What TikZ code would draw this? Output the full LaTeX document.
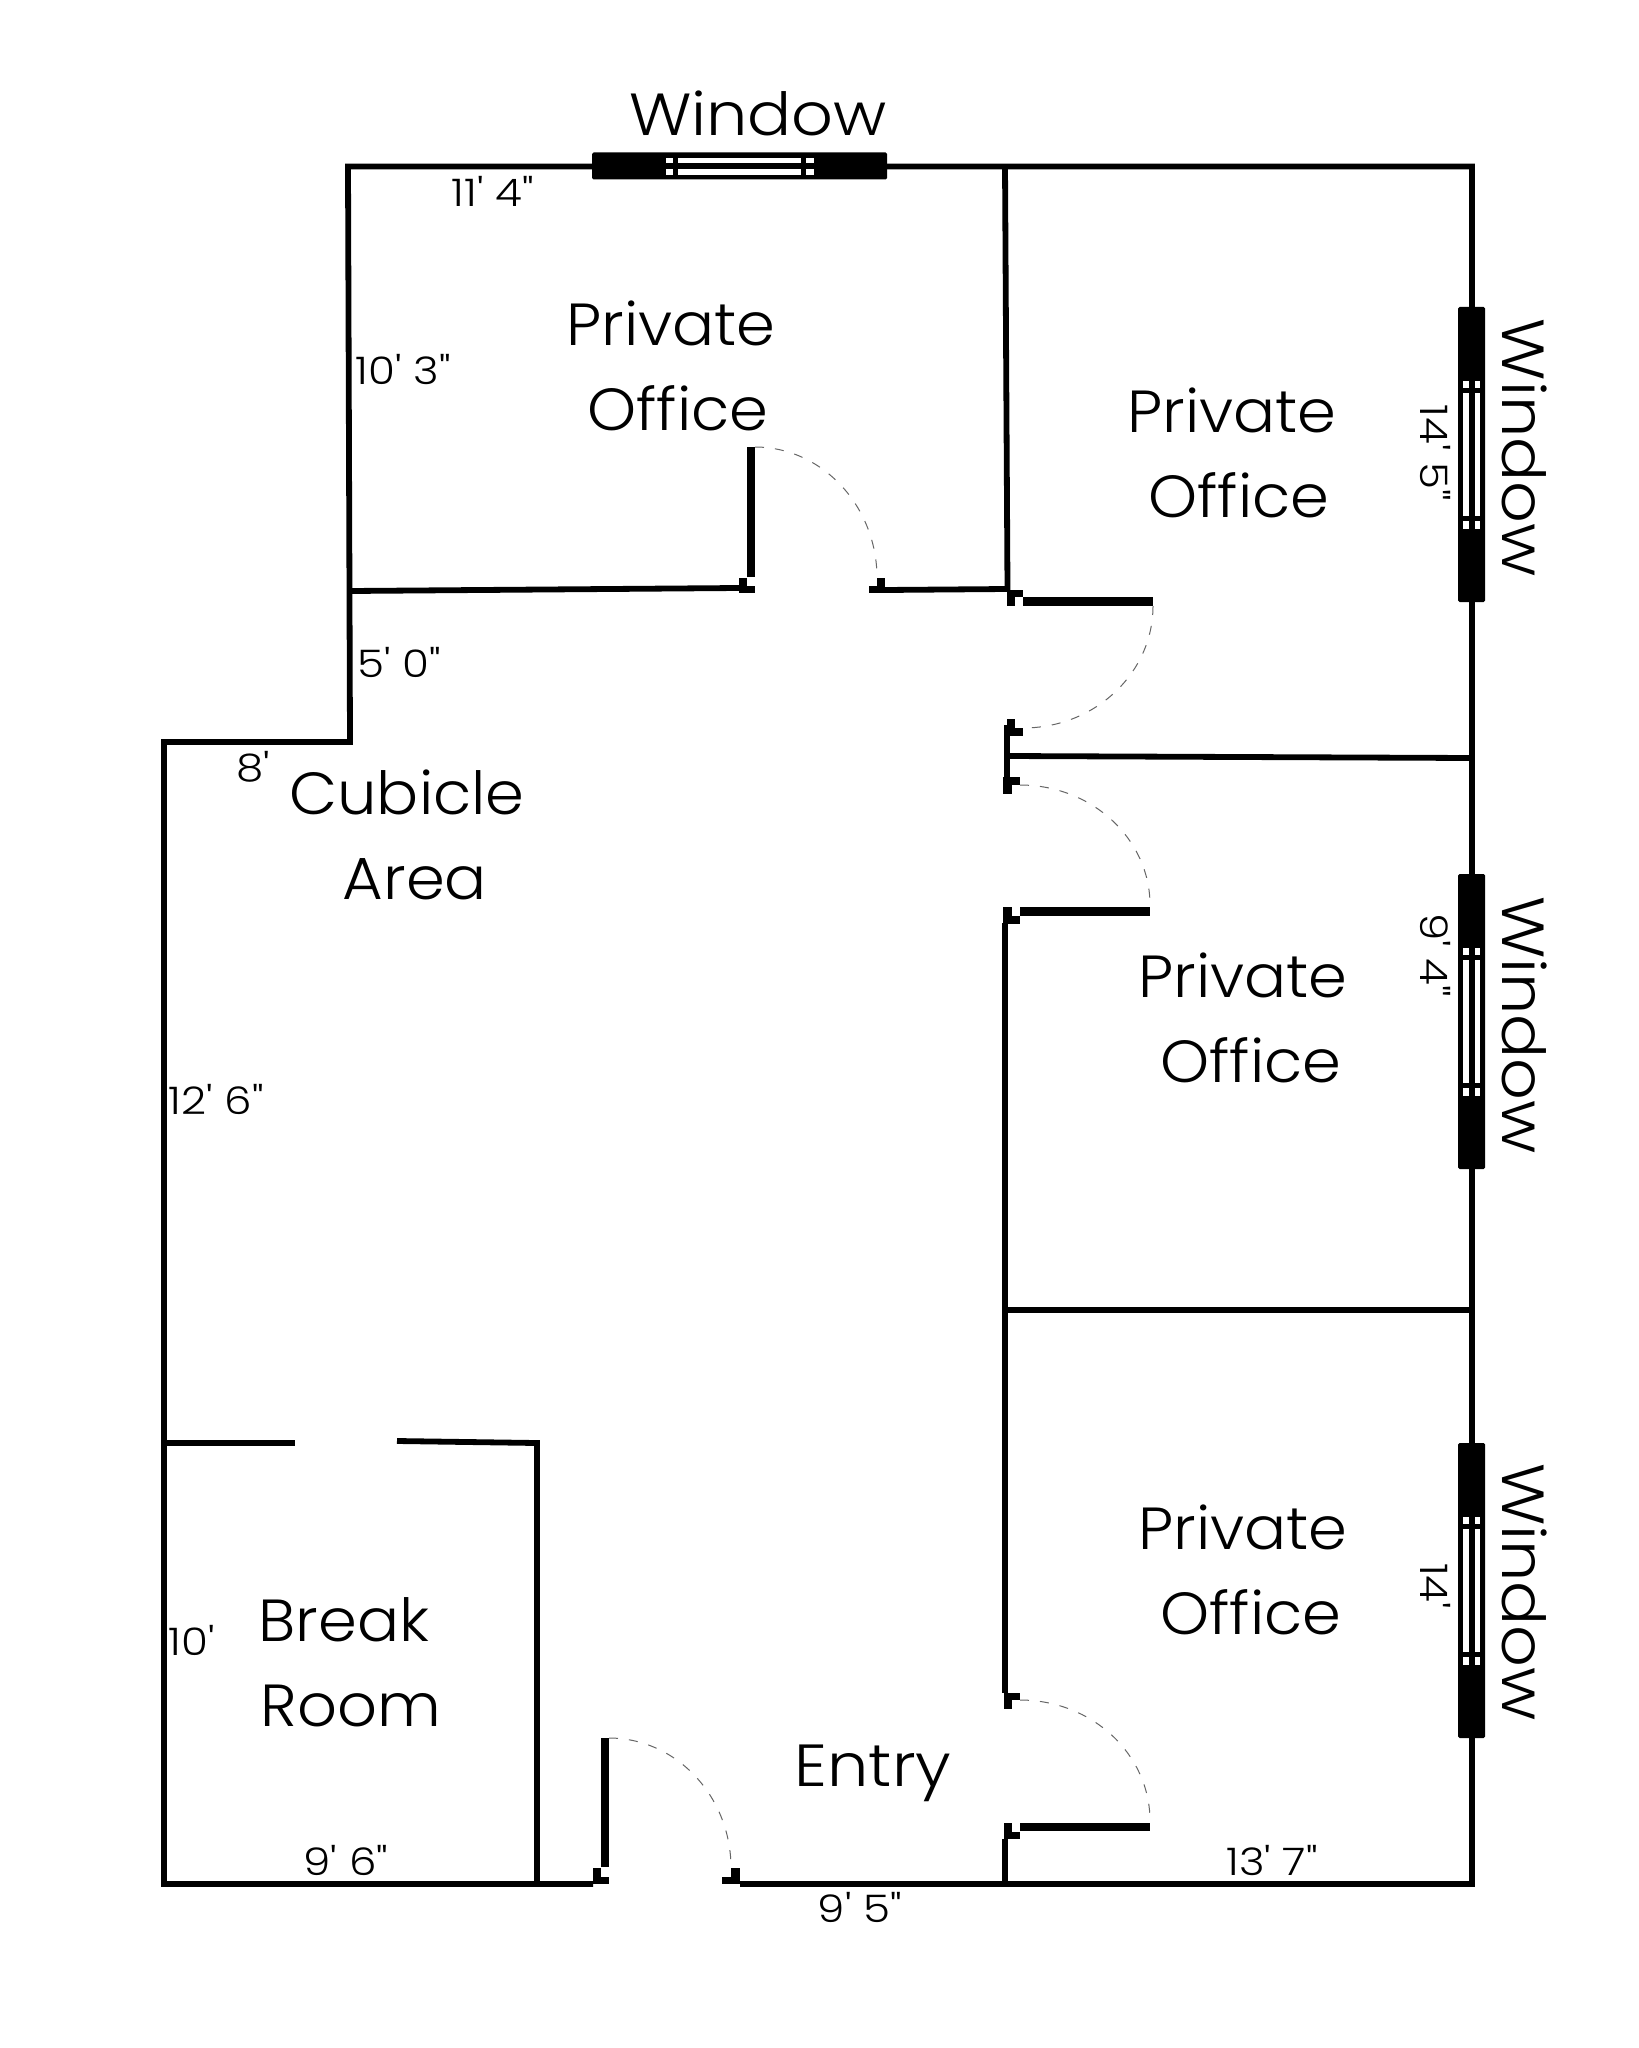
\documentclass[tikz,border=0pt]{standalone}
\usepackage{fontspec}
\usepackage{tikz}
\newfontfamily\planfont{Poppins Light}[FakeStretch=1.05]
\newfontfamily\planwidefont{Poppins Light}[FakeStretch=1.1]
\newfontfamily\plandimfont{Poppins Light}[FakeStretch=1.15]

\tikzset{
  wall/.style={line width=0.58mm, black},
  swing/.style={line width=0.1mm, gray!80!black, dash pattern=on 0.9mm off 1.1mm},
  roomlabel/.style={anchor=base, inner sep=0, font=\planfont\fontsize{16.9}{20}\selectfont},
  widelabel/.style={anchor=base, inner sep=0, font=\planwidefont\fontsize{16.9}{20}\selectfont},
  dimlabel/.style={inner sep=0, font=\plandimfont\fontsize{10.8}{12}\selectfont},
  windowframe/.pic={
    \fill[black, rounded corners=0.15mm] (0,-13.5) rectangle (295,13.5);
    \fill[white] (74,-8) rectangle (81,-3);
    \fill[white] (86,-8) rectangle (209,-3);
    \fill[white] (214,-8) rectangle (222,-3);
    \fill[white] (74,3) rectangle (81,9);
    \fill[white] (86,3) rectangle (209,9);
    \fill[white] (214,3) rectangle (222,9);
  }
}

\begin{document}
\begin{tikzpicture}[x=0.1mm, y=-0.1mm]
    \useasboundingbox (0,0) rectangle (1638,2048);
    \fill[white] (0,0) rectangle (1638,2048);

    %the outer walls
    \draw[wall] (593,1884) -- (164,1884) -- (164,742) -- (350,742) -- (348,166.5)
                -- (1472,166.5) -- (1472,1884) -- (740,1884);

    %the inner walls
    \draw[wall] (1005,166) -- (1007.5,590);
    \draw[wall] (351,591) -- (739,588);
    \draw[wall] (885,590) -- (1007,589);
    \draw[wall] (1007,725) -- (1007,778);
    \draw[wall] (1007,756) -- (1472,758);
    \draw[wall] (1005,923) -- (1005,1693);
    \draw[wall] (1005,1310) -- (1472,1310);
    \draw[wall] (1005,1839) -- (1005,1884);
    \draw[wall] (164,1443) -- (295,1443);
    \draw[wall] (397,1441) -- (537,1443) -- (537,1884);

    %the door leaves
    \fill (747,447) rectangle (755,577);
    \fill (1023,597) rectangle (1153,606);
    \fill (1020,907) rectangle (1150,916);
    \fill (1020,1823) rectangle (1150,1831);
    \fill (601,1738) rectangle (609,1867);

    %the door jambs
    \fill (739,578) rectangle (747,593);
    \fill (739,586) rectangle (755,593);
    \fill (877,578) rectangle (885,593);
    \fill (869,586) rectangle (885,593);
    \fill (1007,590) rectangle (1015,606);
    \fill (1007,590) rectangle (1023,597);
    \fill (1007,719) rectangle (1015,735);
    \fill (1004,728) rectangle (1023,736);
    \fill (1003,777) rectangle (1012,794);
    \fill (1003,777) rectangle (1020,785);
    \fill (1003,907) rectangle (1012,923);
    \fill (1003,916) rectangle (1020,924);
    \fill (1004,1693) rectangle (1012,1709);
    \fill (1004,1693) rectangle (1020,1700);
    \fill (1004,1823) rectangle (1012,1839);
    \fill (1004,1832) rectangle (1020,1839);
    \fill (593,1868) rectangle (601,1884);
    \fill (593,1877) rectangle (609,1884);
    \fill (731,1868) rectangle (740,1884);
    \fill (722,1877) rectangle (740,1884);

    %the door swings
    \draw[swing] (755,447) .. controls (822,447) and (877,506) .. (877,578);
    \draw[swing] (1153,606) .. controls (1153,673) and (1095,728) .. (1023,728);
    \draw[swing] (1020,785) .. controls (1092,785) and (1150,839) .. (1150,905);
    \draw[swing] (1020,1700) .. controls (1092,1700) and (1150,1754) .. (1150,1821);
    \draw[swing] (609,1738) .. controls (676,1738) and (731,1796) .. (731,1868);

    %the windows
    \pic at (592,166) {windowframe};
    \pic[rotate=-90] at (1471.5,307) {windowframe};
    \pic[rotate=-90] at (1471.5,874) {windowframe};
    \pic[rotate=-90] at (1471.5,1443) {windowframe};

    %the room names
    \node[widelabel] (window1) at (758,136) {Window};
    \node[widelabel, rotate=-90] (window2) at (1502,448) {Window};
    \node[widelabel, rotate=-90] (window3) at (1502,1025) {Window};
    \node[widelabel, rotate=-90] (window4) at (1502,1592) {Window};
    \node[roomlabel] (office1a) at (671,346) {Private};
    \node[roomlabel] (office1b) at (678,431) {Office};
    \node[roomlabel] (office2a) at (1232,432) {Private};
    \node[roomlabel] (office2b) at (1239,517) {Office};
    \node[roomlabel] (office3a) at (1243,997) {Private};
    \node[roomlabel] (office3b) at (1251,1082) {Office};
    \node[roomlabel] (office4a) at (1243,1549) {Private};
    \node[roomlabel] (office4b) at (1251,1634) {Office};
    \node[roomlabel] (cubicle) at (407,814) {Cubicle};
    \node[roomlabel] (area) at (415,899) {Area};
    \node[roomlabel] (break) at (344,1641) {Break};
    \node[roomlabel] (room) at (351,1726) {Room};
    \node[widelabel] (entry) at (873,1786) {Entry};

    %the measures
    \node[dimlabel] (d1) at (493,191) {11' 4"};
    \node[dimlabel] (d2) at (403,370) {10' 3"};
    \node[dimlabel] (d3) at (399,662) {5' 0"};
    \node[dimlabel] (d4) at (253,767) {8'};
    \node[dimlabel] (d5) at (216,1099) {12' 6"};
    \node[dimlabel] (d6) at (192,1640) {10'};
    \node[dimlabel] (d7) at (346,1860) {9' 6"};
    \node[dimlabel] (d8) at (860,1907) {9' 5"};
    \node[dimlabel] (d9) at (1272,1860) {13' 7"};
    \node[dimlabel, rotate=-90] (d10) at (1436,453) {14' 5"};
    \node[dimlabel, rotate=-90] (d11) at (1436,955) {9' 4"};
    \node[dimlabel, rotate=-90] (d12) at (1436,1586) {14'};
\end{tikzpicture}
\end{document}
